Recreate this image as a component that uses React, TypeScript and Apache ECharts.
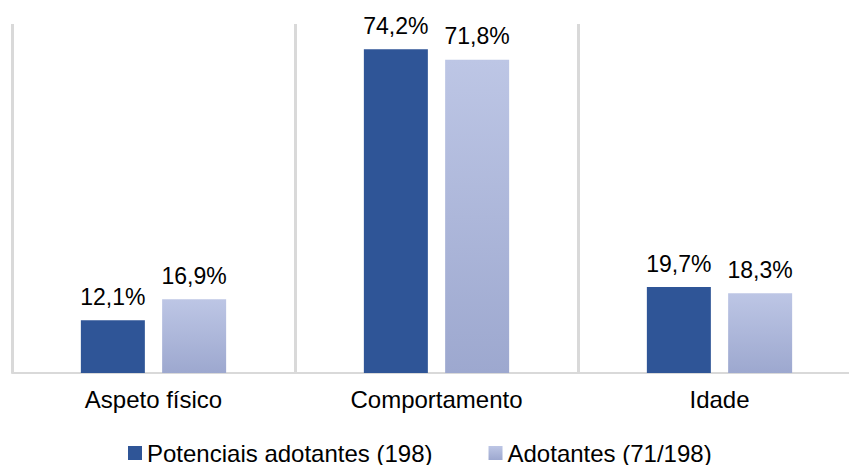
import React, { useEffect, useRef } from "react";
import * as echarts from "echarts";

const categories = ["Aspeto físico", "Comportamento", "Idade"];
const potenciais = [12.1, 74.2, 19.7];
const adotantes = [16.9, 71.8, 18.3];
const seriesNames = ["Potenciais adotantes (198)", "Adotantes (71/198)"];

const font = "'Liberation Sans', Arial, sans-serif";

export default function App() {
  const ref = useRef<HTMLDivElement>(null);
  useEffect(() => {
    if (!ref.current) return;
    const chart = echarts.init(ref.current, null, { renderer: "svg" });
    const fmt = (p: any) => p.value.toFixed(1).replace(".", ",") + "%";
    const labelStyle = {
      show: true,
      position: "top",
      distance: 12,
      formatter: fmt,
      fontFamily: font,
      fontSize: 23,
      color: "#000",
    };
    chart.setOption({
      animation: false,
      grid: { left: 12, right: 0, top: 24, bottom: 92 },
      legend: {
        top: 441,
        left: 128,
        padding: 0,
        itemWidth: 14,
        itemHeight: 14,
        itemGap: 56,
        icon: "rect",
        textStyle: { fontFamily: font, fontSize: 24, color: "#000" },
        data: seriesNames,
      },
      xAxis: {
        type: "category",
        data: categories,
        axisLine: { lineStyle: { color: "#d9d9d9", width: 2 } },
        axisTick: { show: false },
        splitLine: { show: true, lineStyle: { color: "#d9d9d9", width: 3 } },
        axisLabel: { fontFamily: font, fontSize: 24, color: "#000", margin: 14 },
      },
      yAxis: {
        type: "value",
        min: 0,
        max: 80,
        show: false,
        splitLine: { show: false },
      },
      series: [
        {
          name: seriesNames[0],
          type: "bar",
          data: potenciais,
          barWidth: 64,
          barGap: "27%",
          itemStyle: { color: "#2F5597" },
          label: labelStyle,
        },
        {
          name: seriesNames[1],
          type: "bar",
          data: adotantes,
          barWidth: 64,
          itemStyle: {
            color: new echarts.graphic.LinearGradient(0, 0, 0, 1, [
              { offset: 0, color: "#BDC6E5" },
              { offset: 1, color: "#9DA8CF" },
            ]),
          },
          label: labelStyle,
        },
      ],
    });
    return () => chart.dispose();
  }, []);
  return (
    <div
      style={{
        position: "absolute",
        left: 0,
        top: 0,
        width: 849,
        height: 465,
        overflow: "hidden",
      }}
    >
      <div ref={ref} style={{ width: 861, height: 465 }} />
    </div>
  );
}
